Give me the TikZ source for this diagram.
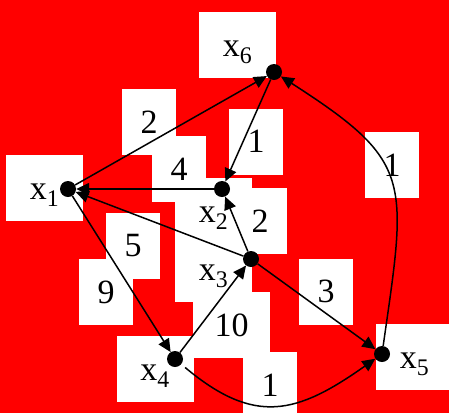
\documentclass[tikz,border=0pt]{standalone}
\usepackage{fontspec}
\setmainfont{Liberation Serif}
\usetikzlibrary{arrows.meta}

\tikzset{
	vert/.style={circle, fill=black, inner sep=0pt, minimum size=16pt},
	numbox/.style={fill=white, inner sep=0pt, minimum width=54pt, minimum height=66pt},
	varbox/.style={numbox, minimum width=77pt, text height=23pt, text depth=0pt},
	edge/.style={line width=1.5pt, -{Triangle[length=13pt, width=12pt]}},
}

\begin{document}
\begin{tikzpicture}[x=1pt, y=-1pt, font=\fontsize{34}{40}\selectfont]
		% --- red canvas ---
		\fill[red] (0,0) rectangle (449,413);
		\useasboundingbox (0,0) rectangle (449,413);

		% --- white boxes: vertex labels ---
		\foreach \n/\x/\y/\i in {lx1/44.5/188/1, lx2/213.5/211/2, lx3/213.5/269/3,
				lx4/155/369/4, lx5/414.5/356.5/5, lx6/237.5/45/6} {
			\node[varbox] (\n) at (\x,\y) {x\textsubscript{\i}\hspace{8pt}};
		}
		% --- white boxes: edge weights ---
		\foreach \n/\x/\y/\w in {w16/149/122/2, w21/179/169/4, w62/256/141.5/1,
				w56/392/165/1, w32/260/221/2, w31/133/246/5, w14/106/292/9,
				w35/326/291.5/3, w45/270/385/1} {
			\node[numbox] (\n) at (\x,\y) {\w};
		}
		\node[numbox, minimum width=77pt] (w43) at (231.5,325) {10};

		% --- vertices ---
		\node[vert] (v1) at (68,189)  {};
		\node[vert] (v2) at (222,189) {};
		\node[vert] (v3) at (251,259) {};
		\node[vert] (v4) at (175,359) {};
		\node[vert] (v5) at (382,354) {};
		\node[vert] (v6) at (274,72)  {};

		% --- straight arcs ---
		\foreach \a/\b in {v1/v6, v6/v2, v2/v1, v3/v1, v1/v4, v3/v2, v4/v3, v3/v5} {
			\draw[edge] (\a) -- (\b);
		}
		% --- curved arcs ---
		\draw[edge, shorten <=5pt] (v4) .. controls +(80,67) and +(-85,60) .. (v5);
		\draw[edge] (v5) .. controls +(25,-175) and +(140,90) .. (v6);
	\end{tikzpicture}
\end{document}
